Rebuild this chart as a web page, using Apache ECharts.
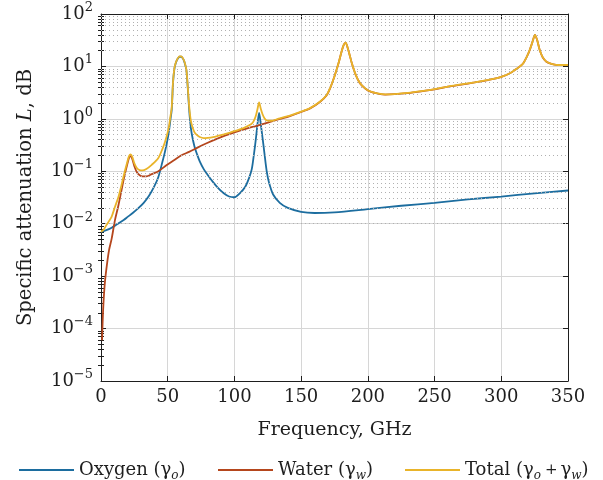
<!DOCTYPE html>
<html><head><meta charset="utf-8">
<script src="https://cdn.jsdelivr.net/npm/echarts@6/dist/echarts.min.js"></script>
<style>html,body{margin:0;padding:0;background:#fff}#c{width:603px;height:480px}</style>
</head><body><div id="c"></div>
<script>
// ---------- data ----------
const oxygenFreq = [0,2,5,8,10, 13,17,20,24,28, 32,36,40,43,46, 48,50,51,52,53,
  54,55,56,57,58, 59,60,61,62,63, 64,65,66,67,68, 70,72,74,77,80,
  84,88,92,96,100, 104,108,111,113,114.5, 116,117.3,118.5,119.7,121,
  122.5,124.2,126,129,134, 140,150,160,175,200, 225,250,275,300,325, 350];
const oxygenVals = [0.0070,0.0072,0.0077,0.0084,0.0090, 0.0101,0.0118,0.0135,0.0162,0.0198,
  0.025,0.034,0.052,0.078,0.15, 0.24,0.42,0.60,0.95,1.5,
  5.0,9.0,11.5,13.3,14.6, 15.3,15.3,14.6,13.2,11, 8.5,4.0,1.6,0.8,0.52,
  0.30,0.21,0.155,0.11,0.085, 0.062,0.047,0.038,0.033,0.032,
  0.038,0.05,0.075,0.11,0.2, 0.4,0.8,1.3,0.8,0.45,
  0.22,0.10,0.06,0.036,0.025, 0.020,0.0168,0.0160,0.0165,0.019,
  0.022,0.025,0.029,0.033,0.038, 0.043];

const waterFreq = [0.8,1,1.5,2,3, 4.5,6,8,10.5,13, 15.4,17.5,19.5,21,22.2,
  23.5,25,27,29,31, 34,38,43,49,55, 60,66,72,80,90, 100,109,116,125,134,
  141,150,157,164,169, 172,175,178,180.5,182, 183.3,185,186.5,188,191,
  194,198,202,207,213, 220,230,240,251,260, 270,280,290,296,302,
  306.5,311,314,316.5,319, 321.3,323.5,325.2,327,328.8, 331,333.8,337,341,345, 350];
const waterVals = [6e-5,9e-5,2e-4,3.6e-4,8e-4, 1.7e-3,3.1e-3,5.2e-3,0.0118,0.022,
  0.044,0.08,0.13,0.18,0.195, 0.17,0.125,0.095,0.084,0.08,
  0.08,0.088,0.10,0.13,0.165, 0.2,0.235,0.28,0.35,0.45,
  0.55,0.65,0.73,0.85,1.0, 1.12,1.35,1.6,2.1,2.8,
  4.0,6.5,11.5,20,26, 28.5,22,16,11.5,6.8,
  4.8,3.8,3.3,3.05,2.9, 2.95,3.1,3.35,3.7,4.1,
  4.5,4.95,5.5,5.9,6.6, 7.4,8.8,10,11.5,15,
  20.5,30,40,31,20.5, 15,12.3,11.3,10.7,10.6, 10.6];

const totalFreq = [0,2,4,6,8, 10.5,13,15.4,17.5,19.5, 21,22.2,23.5,25,27,
  29,31,34,38,43, 46,48,50,51,52, 53,54,55,56,57, 58,59,60,61,62,
  63,64,65,66,67, 68,70,72,74,77, 80,84,88,92,96, 100,104,108,111,113,
  114.5,116,117.3,118.5,119.7, 121,122.5,124.2,126,129, 134,141,150,157,164,
  169,172,175,178,180.5, 182,183.3,185,186.5,188, 191,194,198,202,207,
  213,220,230,240,251, 260,270,280,290,296, 302,306.5,311,314,316.5,
  319,321.3,323.5,325.2,327, 328.8,331,333.8,337,341, 345,350];
const totalVals = [0.0070,0.0077,0.0094,0.0112,0.0137, 0.0211,0.032,0.055,0.092,0.144,
  0.195,0.21,0.187,0.142,0.114, 0.105,0.104,0.111,0.133,0.18,
  0.265,0.365,0.555,0.74,1.1, 1.65,5.15,9.17,11.7,13.5,
  14.8,15.5,15.5,14.8,13.4, 11.2,8.7,4.2,1.84,1.04,
  0.77,0.56,0.49,0.45,0.43, 0.435,0.45,0.477,0.508,0.543,
  0.582,0.63,0.69,0.755,0.81, 0.915,1.13,1.545,2.06,1.575,
  1.24,1.03,0.93,0.92,0.93, 1.025,1.14,1.37,1.62,2.12,
  2.82,4.02,6.52,11.52,20.02, 26.02,28.52,22.02,16.02,11.52,
  6.82,4.82,3.82,3.32,3.07, 2.92,2.97,3.12,3.37,3.73,
  4.13,4.53,4.98,5.53,5.93, 6.63,7.43,8.83,10.03,11.54,
  15.04,20.54,30.04,40.04,31.04, 20.54,15.04,12.34,11.34,10.74, 10.64,10.64];

const xTicks = [0, 50, 100, 150, 200, 250, 300, 350];
const seriesNames = ['Oxygen', 'Water', 'Total'];

// ---------- styling ----------
const FONT = '"DejaVu Serif", serif';
const TXT = '#1e1e1e';
const COLORS = ['#1c6d9f', '#b5461d', '#e9b42a'];

// minor grid values 2..9 × each decade
const minorVals = [];
for (let d = -5; d < 2; d++) for (let k = 2; k <= 9; k++) minorVals.push(k * Math.pow(10, d));
const minorExp = minorVals.map(v => Math.log10(v));

const pairs = (f, v) => f.map((x, i) => [x, v[i]]);

function yLabel(v) {
  const e = Math.round(Math.log10(v));
  const s = e < 0 ? '\u2212' + (-e) : String(e);
  return '{b|10}{s|' + s + '}';
}

const legendLabels = {
  Oxygen: '{t|Oxygen (}{g|\u03b3}{u|o}{t|)}',
  Water: '{t|Water (}{g|\u03b3}{u|w}{t|)}',
  Total: '{t|Total (}{g|\u03b3}{u|o}{p|+}{g|\u03b3}{u|w}{t|)}'
};
const legendRich = {
  t: {fontFamily: FONT, fontSize: 18, color: TXT, lineHeight: 24},
  g: {fontFamily: FONT, fontSize: 18, color: TXT, lineHeight: 24},
  p: {fontFamily: FONT, fontSize: 15, color: TXT, lineHeight: 24, padding: [0, 3, 0, 4]},
  u: {fontFamily: FONT, fontStyle: 'italic', fontSize: 12, color: TXT, lineHeight: 12, verticalAlign: 'bottom'}
};
const legendLefts = [14, 213, 400];
function makeLegend(i) {
  return {
    left: legendLefts[i], top: 456, itemWidth: 55, itemHeight: 2, icon: 'rect',
    data: [seriesNames[i]],
    formatter: n => legendLabels[n],
    textStyle: {rich: legendRich}
  };
}

const chart = echarts.init(document.getElementById('c'), null, {renderer: 'canvas'});
const axisLineStyle = {color: TXT, width: 1};

const option = {
  animation: false,
  color: COLORS,
  grid: {left: 101, right: 35, top: 14, bottom: 99, containLabel: false},
  legend: [makeLegend(0), makeLegend(1), makeLegend(2)],
  xAxis: [{
    type: 'value', min: 0, max: 350, interval: 50, position: 'bottom',
    name: 'Frequency, GHz', nameLocation: 'middle', nameGap: 40,
    nameTextStyle: {fontFamily: FONT, fontSize: 19, color: TXT},
    axisLine: {show: true, onZero: false, lineStyle: axisLineStyle},
    axisTick: {show: true, inside: true, length: 5, lineStyle: axisLineStyle},
    axisLabel: {fontFamily: FONT, fontSize: 18, color: TXT, margin: 7,
      customValues: xTicks, showMinLabel: true, showMaxLabel: true},
    splitLine: {show: true, lineStyle: {color: '#d6d6d6', width: 1}}
  }, {
    type: 'value', min: 0, max: 350, interval: 50, position: 'top',
    axisLine: {show: true, onZero: false, lineStyle: axisLineStyle},
    axisTick: {show: true, inside: true, length: 5, lineStyle: axisLineStyle},
    axisLabel: {show: false}, splitLine: {show: false}
  }],
  yAxis: [{
    type: 'log', logBase: 10, min: 1e-5, max: 1e2, position: 'left',
    name: '{n|Specific attenuation }{i|L}{n|, dB}',
    nameLocation: 'middle', nameGap: 65,
    nameTextStyle: {rich: {
      n: {fontFamily: FONT, fontSize: 19.5, color: TXT},
      i: {fontFamily: FONT, fontStyle: 'italic', fontSize: 19.5, color: TXT}
    }},
    axisLine: {show: true, onZero: false, lineStyle: axisLineStyle},
    axisTick: {show: true, inside: true, length: 5, lineStyle: axisLineStyle},
    axisLabel: {
      formatter: yLabel, margin: 8, showMinLabel: true, showMaxLabel: true,
      rich: {
        b: {fontFamily: FONT, fontSize: 18, color: TXT, lineHeight: 26},
        s: {fontFamily: FONT, fontSize: 13, color: TXT, lineHeight: 13, verticalAlign: 'top'}
      }
    },
    splitLine: {show: true, lineStyle: {color: '#d6d6d6', width: 1}}
  }, {
    type: 'value', min: -5, max: 2, position: 'left',
    axisLine: {show: false},
    axisTick: {show: true, inside: true, length: 3, customValues: minorExp, lineStyle: axisLineStyle},
    axisLabel: {show: false}, splitLine: {show: false}
  }, {
    type: 'log', logBase: 10, min: 1e-5, max: 1e2, position: 'right',
    axisLine: {show: true, onZero: false, lineStyle: axisLineStyle},
    axisTick: {show: true, inside: true, length: 5, lineStyle: axisLineStyle},
    axisLabel: {show: false}, splitLine: {show: false}
  }, {
    type: 'value', min: -5, max: 2, position: 'right',
    axisLine: {show: false},
    axisTick: {show: true, inside: true, length: 3, customValues: minorExp, lineStyle: axisLineStyle},
    axisLabel: {show: false}, splitLine: {show: false}
  }],
  series: [
    {
      name: '_minorGrid', type: 'line', data: [], z: 1, silent: true,
      markLine: {
        silent: true, symbol: ['none', 'none'], label: {show: false},
        lineStyle: {color: '#b0b0b0', type: [1, 3], width: 1},
        data: minorVals.map(v => ({yAxis: v}))
      }
    },
    {name: seriesNames[0], type: 'line', data: pairs(oxygenFreq, oxygenVals),
     showSymbol: false, smooth: 0.3, lineStyle: {width: 1.8, color: COLORS[0]},
     itemStyle: {color: COLORS[0]}, z: 3},
    {name: seriesNames[1], type: 'line', data: pairs(waterFreq, waterVals),
     showSymbol: false, smooth: 0.3, lineStyle: {width: 1.8, color: COLORS[1]},
     itemStyle: {color: COLORS[1]}, z: 4},
    {name: seriesNames[2], type: 'line', data: pairs(totalFreq, totalVals),
     showSymbol: false, smooth: 0.3, lineStyle: {width: 1.8, color: COLORS[2]},
     itemStyle: {color: COLORS[2]}, z: 5}
  ]
};
chart.setOption(option);
</script>
</body></html>
